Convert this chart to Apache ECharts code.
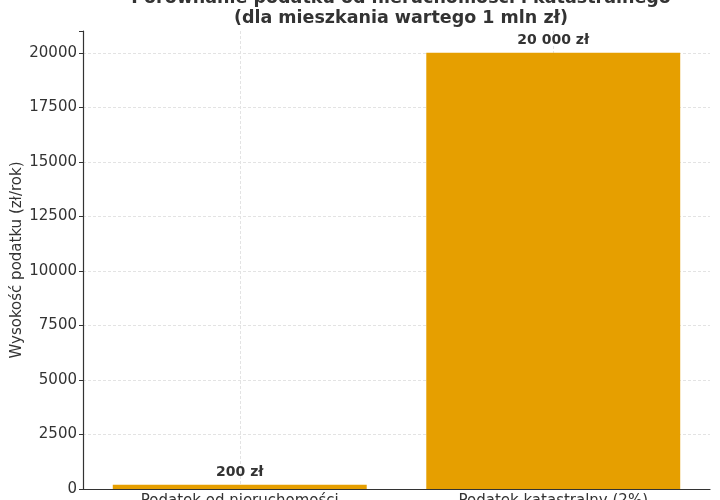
<!DOCTYPE html>
<html>
<head>
<meta charset="UTF-8">
<title>Porównanie podatku</title>
<style>
  html, body { margin: 0; padding: 0; background: #fff; }
  #main { width: 720px; height: 500px; }
</style>
</head>
<body>
<div id="main"></div>
<script src="https://cdn.jsdelivr.net/npm/echarts@6/dist/echarts.min.js"></script>
<script>
// dane
var categories = ['Podatek od nieruchomości', 'Podatek katastralny (2%)'];
var taxValues = [200, 20000];
var valueLabels = ['200 zł', '20 000 zł'];

var chart = echarts.init(document.getElementById('main'));
var font = 'DejaVu Sans';

var option = {
  animation: false,
  title: {
    text: 'Porównanie podatku od nieruchomości i katastralnego\n(dla mieszkania wartego 1 mln zł)',
    left: 396,
    textAlign: 'center',
    top: -17,
    textStyle: { fontFamily: font, fontSize: 17.5, fontWeight: 'bold', color: '#333', lineHeight: 20 }
  },
  grid: { left: 83, right: 10, top: 31, bottom: 11, outerBoundsMode: 'none', containLabel: false },
  xAxis: {
    type: 'category',
    data: categories,
    axisLine: { lineStyle: { color: '#333', width: 1.2 } },
    axisTick: { alignWithLabel: true, length: 4, lineStyle: { color: '#333' } },
    axisLabel: { fontFamily: font, fontSize: 15, color: '#333', margin: 5 },
    splitLine: { show: true, alignWithLabel: true, lineStyle: { color: '#e3e3e3', type: [3, 2] } }
  },
  yAxis: {
    type: 'value',
    min: 0,
    max: 21000,
    interval: 2500,
    name: 'Wysokość podatku (zł/rok)',
    nameLocation: 'middle',
    nameGap: 58,
    nameMoveOverlap: false,
    nameTextStyle: { fontFamily: font, fontSize: 15, color: '#333' },
    axisLine: { show: true, lineStyle: { color: '#333', width: 1.2 } },
    axisTick: { show: true, length: 4, lineStyle: { color: '#333' } },
    axisLabel: {
      fontFamily: font, fontSize: 15, color: '#333', margin: 6,
      formatter: function (v) { return v > 20000 ? '' : String(v); }
    },
    splitLine: { show: true, showMaxLine: false, lineStyle: { color: '#e3e3e3', type: [3, 2] } }
  },
  series: [{
    type: 'bar',
    data: taxValues,
    barWidth: '81%',
    itemStyle: { color: '#E69F00' },
    label: {
      show: true,
      position: 'top',
      distance: 5,
      fontFamily: font,
      fontSize: 14,
      fontWeight: 'bold',
      color: '#333',
      formatter: function (p) { return valueLabels[p.dataIndex]; }
    }
  }]
};

chart.setOption(option);
</script>
</body>
</html>
